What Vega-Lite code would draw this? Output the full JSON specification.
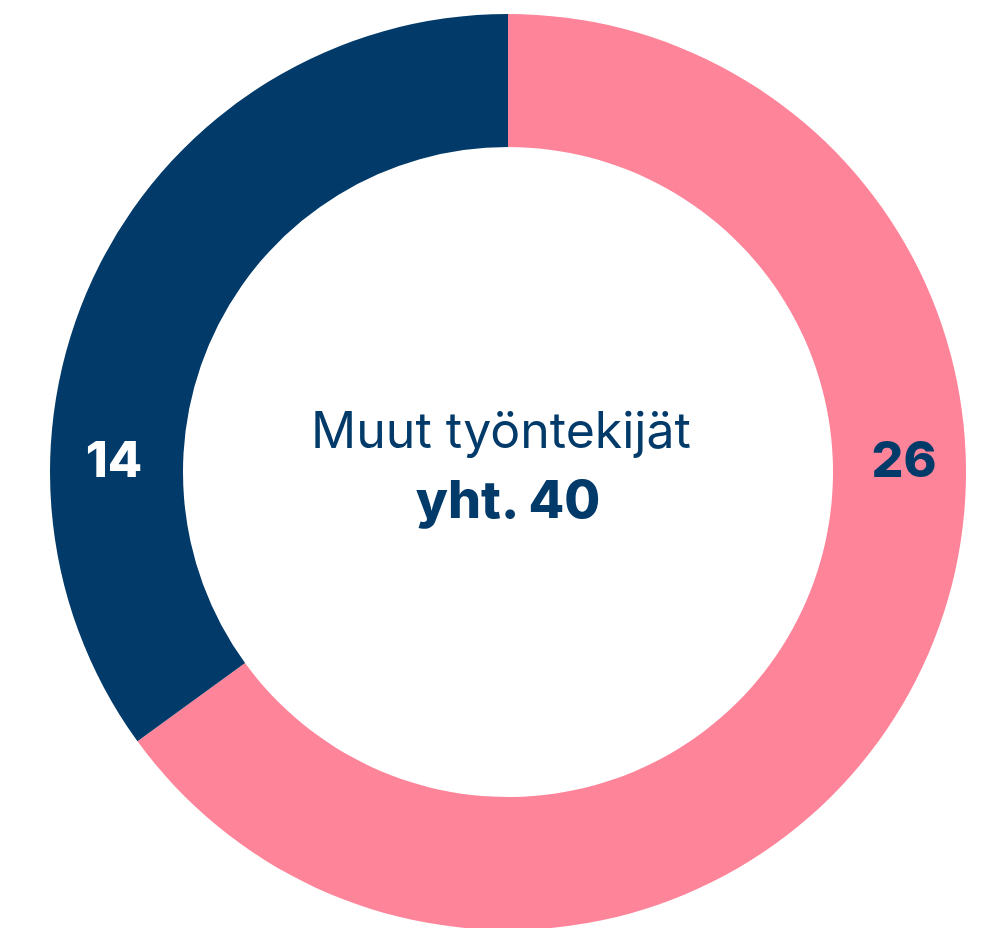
{
  "$schema": "https://vega.github.io/schema/vega-lite/v6.json",
  "width": 984,
  "height": 928,
  "autosize": {"type": "fit", "contains": "padding"},
  "padding": {"left": 32, "top": 16, "right": 0, "bottom": 0},
  "background": "white",
  "config": {"view": {"stroke": null}},
  "data": {"values": [
    {"group": "A", "value": 26},
    {"group": "B", "value": 14}
  ]},
  "layer": [
    {
      "mark": {"type": "arc", "outerRadius": 458, "innerRadius": 325},
      "encoding": {
        "theta": {"field": "value", "type": "quantitative", "stack": true},
        "color": {"field": "group", "type": "nominal", "scale": {"domain": ["A", "B"], "range": ["#FE8499", "#023B6A"]}, "legend": null}
      }
    },
    {
      "transform": [{"filter": "datum.group === 'B'"}],
      "mark": {"type": "text", "font": "Inter", "fontSize": 50, "fontWeight": 800, "color": "white", "baseline": "alphabetic", "dy": 5, "dx": 1},
      "encoding": {
        "theta": {"value": 4.712},
        "radius": {"value": 395},
        "text": {"field": "value", "type": "quantitative"}
      }
    },
    {
      "transform": [{"filter": "datum.group === 'A'"}],
      "mark": {"type": "text", "font": "Inter", "fontSize": 50, "fontWeight": 800, "color": "#023B6A", "baseline": "alphabetic", "dy": 5},
      "encoding": {
        "theta": {"value": 1.5708},
        "radius": {"value": 396},
        "text": {"field": "value", "type": "quantitative"}
      }
    },
    {
      "transform": [{"aggregate": [{"op": "count", "as": "n"}]}],
      "mark": {"type": "text", "font": "Inter", "fontSize": 50, "fontWeight": "normal", "color": "#023B6A", "baseline": "alphabetic", "dy": -24, "dx": -7, "text": "Muut työntekijät"},
      "encoding": {}
    },
    {
      "transform": [
        {"aggregate": [{"op": "sum", "field": "value", "as": "total"}]},
        {"calculate": "'yht. ' + datum.total", "as": "label"}
      ],
      "mark": {"type": "text", "font": "Inter", "fontSize": 52, "fontWeight": 800, "color": "#023B6A", "baseline": "alphabetic", "dy": 46},
      "encoding": {"text": {"field": "label", "type": "nominal"}}
    }
  ]
}
